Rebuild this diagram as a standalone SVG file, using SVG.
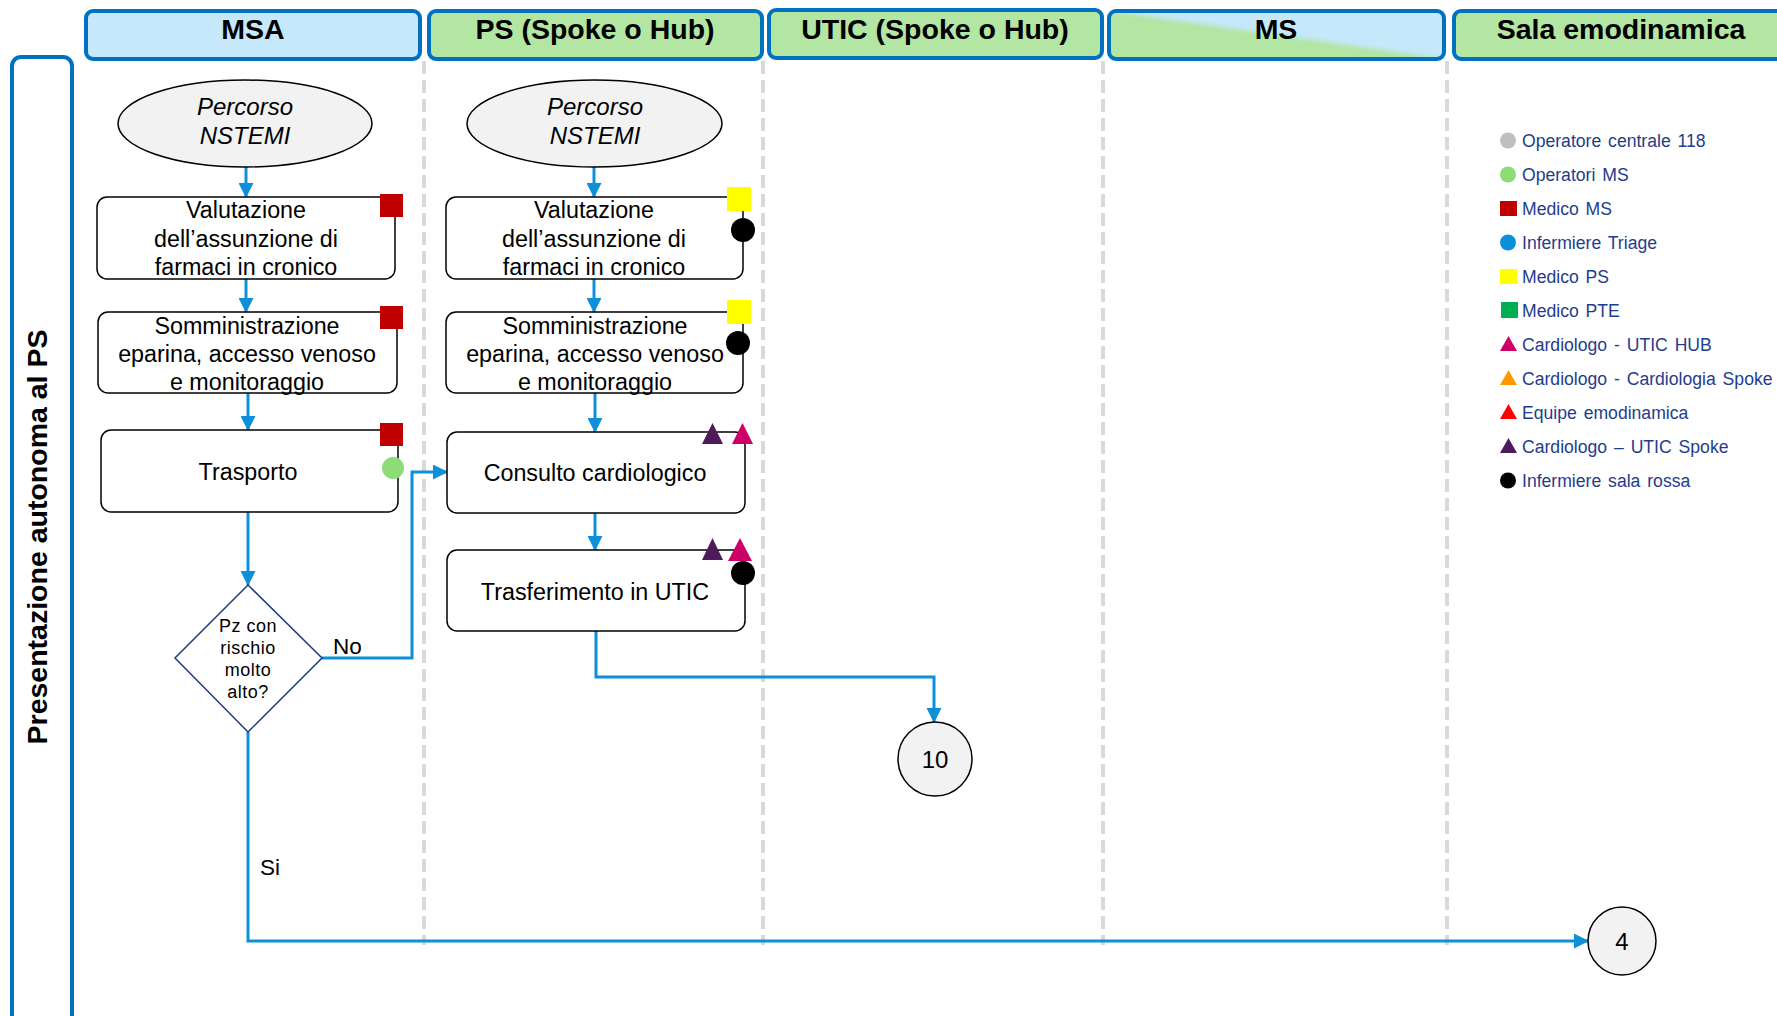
<svg xmlns="http://www.w3.org/2000/svg" width="1777" height="1016" viewBox="0 0 1777 1016">
  <defs>
    <marker id="arrow" markerUnits="userSpaceOnUse" markerWidth="15" markerHeight="15" refX="14" refY="7.5" orient="auto">
      <path d="M0,0 L15,7.5 L0,15 z" fill="#0E90D8"/>
    </marker>
    <linearGradient id="msFill" x1="0" y1="1" x2="1" y2="0">
      <stop offset="0" stop-color="#B2E6A2"/>
      <stop offset="0.46" stop-color="#B2E6A2"/>
      <stop offset="0.54" stop-color="#C5E8FA"/>
      <stop offset="1" stop-color="#C5E8FA"/>
    </linearGradient>
  </defs>
  <style>
    .hdr { stroke: #0070C0; stroke-width: 4; }
    .hdrText { font-family: "Liberation Sans", Arial, sans-serif; font-weight: bold; font-size: 28.5px; fill: #000; text-anchor: middle; }
    .lane { stroke: #D9D9D9; stroke-width: 4; stroke-dasharray: 13 6; fill: none; }
    .box { fill: #FFFFFF; stroke: #000; stroke-width: 1.5; }
    .start { fill: #F2F2F2; stroke: #000; stroke-width: 1.5; }
    .dec { fill: #FFFFFF; stroke: #1F3A7C; stroke-width: 1.5; }
    .t { font-family: "Liberation Sans", Arial, sans-serif; font-size: 23.3px; fill: #000; text-anchor: middle; }
    .ti { font-family: "Liberation Sans", Arial, sans-serif; font-size: 24px; font-style: italic; fill: #000; text-anchor: middle; }
    .td { font-family: "Liberation Sans", Arial, sans-serif; font-size: 18px; letter-spacing: 0.5px; fill: #000; text-anchor: middle; }
    .lbl { font-family: "Liberation Sans", Arial, sans-serif; font-size: 22.5px; fill: #000; }
    .ref { font-family: "Liberation Sans", Arial, sans-serif; font-size: 24px; fill: #000; text-anchor: middle; }
    .conn { stroke: #0E90D8; stroke-width: 3; fill: none; }
    .leg { font-family: "Liberation Sans", Arial, sans-serif; font-size: 17.6px; fill: #1F3D8C; word-spacing: 2px; }
  </style>

  <rect width="1777" height="1016" fill="#FFFFFF"/>

  <!-- swimlane headers -->
  <g id="header-msa">
    <rect class="hdr" x="86" y="11" width="334" height="48" rx="7" fill="#C5E8FA"/>
    <text class="hdrText" x="253" y="39">MSA</text>
  </g>
  <g id="header-ps">
    <rect class="hdr" x="429" y="11" width="333" height="48" rx="7" fill="#B2E6A2"/>
    <text class="hdrText" x="595" y="39">PS (Spoke o Hub)</text>
  </g>
  <g id="header-utic">
    <rect class="hdr" x="769" y="10" width="333" height="48" rx="7" fill="#B2E6A2"/>
    <text class="hdrText" x="935" y="39">UTIC (Spoke o Hub)</text>
  </g>
  <g id="header-ms">
    <rect class="hdr" x="1109" y="11" width="335" height="48" rx="7" fill="url(#msFill)"/>
    <text class="hdrText" x="1276" y="39">MS</text>
  </g>
  <g id="header-sala">
    <rect class="hdr" x="1454" y="11" width="336" height="48" rx="7" fill="#B2E6A2"/>
    <text class="hdrText" x="1621" y="39">Sala emodinamica</text>
  </g>

  <!-- row label -->
  <g id="row-label">
    <rect x="12" y="57" width="60" height="975" rx="9" fill="#FFFFFF" stroke="#0070C0" stroke-width="4"/>
    <text class="hdrText" font-size="28.8" transform="translate(47,537) rotate(-90)">Presentazione autonoma al PS</text>
  </g>

  <!-- lane separators -->
  <g id="lanes">
    <line class="lane" x1="424" y1="61" x2="424" y2="945"/>
    <line class="lane" x1="763" y1="61" x2="763" y2="945"/>
    <line class="lane" x1="1103" y1="61" x2="1103" y2="945"/>
    <line class="lane" x1="1447" y1="61" x2="1447" y2="945"/>
  </g>

  <!-- connectors -->
  <g id="connectors">
    <path class="conn" d="M246,167 V197" marker-end="url(#arrow)"/>
    <path class="conn" d="M246,279 V312" marker-end="url(#arrow)"/>
    <path class="conn" d="M248,393 V430" marker-end="url(#arrow)"/>
    <path class="conn" d="M248,512 V585" marker-end="url(#arrow)"/>
    <path class="conn" d="M322,658 H412 V472 H447" marker-end="url(#arrow)"/>
    <path class="conn" d="M594,167 V197" marker-end="url(#arrow)"/>
    <path class="conn" d="M594,279 V312" marker-end="url(#arrow)"/>
    <path class="conn" d="M595,393 V432" marker-end="url(#arrow)"/>
    <path class="conn" d="M595,513 V550" marker-end="url(#arrow)"/>
    <path class="conn" d="M596,631 V677 H934 V722" marker-end="url(#arrow)"/>
    <path class="conn" d="M248,732 V941 H1588" marker-end="url(#arrow)"/>
    <text class="lbl" x="333" y="654">No</text>
    <text class="lbl" x="260" y="875" font-size="24">Si</text>
  </g>

  <!-- MSA lane -->
  <g id="msa-start">
    <ellipse class="start" cx="245" cy="123.5" rx="127" ry="43.5"/>
    <text class="ti" x="245" y="115">Percorso</text>
    <text class="ti" x="245" y="144">NSTEMI</text>
  </g>
  <g id="msa-valutazione">
    <rect class="box" x="97" y="197" width="298" height="82" rx="10"/>
    <text class="t" x="246" y="218">Valutazione</text>
    <text class="t" x="246" y="247">dell’assunzione di</text>
    <text class="t" x="246" y="275">farmaci in cronico</text>
    <rect x="380" y="194" width="23" height="23" fill="#C00000"/>
  </g>
  <g id="msa-somministrazione">
    <rect class="box" x="98" y="312" width="299" height="81" rx="10"/>
    <text class="t" x="247" y="334">Somministrazione</text>
    <text class="t" x="247" y="362">eparina, accesso venoso</text>
    <text class="t" x="247" y="390">e monitoraggio</text>
    <rect x="380" y="306" width="23" height="23" fill="#C00000"/>
  </g>
  <g id="msa-trasporto">
    <rect class="box" x="101" y="430" width="297" height="82" rx="10"/>
    <text class="t" x="248" y="480">Trasporto</text>
    <rect x="380" y="423" width="23" height="23" fill="#C00000"/>
    <circle cx="393" cy="468" r="11" fill="#8CDC78"/>
  </g>
  <g id="msa-decisione">
    <polygon class="dec" points="248,585 322,658 248,732 175,658"/>
    <text class="td" x="248" y="632">Pz con</text>
    <text class="td" x="248" y="654">rischio</text>
    <text class="td" x="248" y="676">molto</text>
    <text class="td" x="248" y="698">alto?</text>
  </g>

  <!-- PS lane -->
  <g id="ps-start">
    <ellipse class="start" cx="594.5" cy="123.5" rx="127.5" ry="43.5"/>
    <text class="ti" x="595" y="115">Percorso</text>
    <text class="ti" x="595" y="144">NSTEMI</text>
  </g>
  <g id="ps-valutazione">
    <rect class="box" x="446" y="197" width="297" height="82" rx="10"/>
    <text class="t" x="594" y="218">Valutazione</text>
    <text class="t" x="594" y="247">dell’assunzione di</text>
    <text class="t" x="594" y="275">farmaci in cronico</text>
    <rect x="727" y="187" width="24" height="24" fill="#FFFF00"/>
    <circle cx="743" cy="230" r="12" fill="#000"/>
  </g>
  <g id="ps-somministrazione">
    <rect class="box" x="446" y="312" width="297" height="81" rx="10"/>
    <text class="t" x="595" y="334">Somministrazione</text>
    <text class="t" x="595" y="362">eparina, accesso venoso</text>
    <text class="t" x="595" y="390">e monitoraggio</text>
    <rect x="727" y="300" width="24" height="24" fill="#FFFF00"/>
    <circle cx="738" cy="343" r="12" fill="#000"/>
  </g>
  <g id="ps-consulto">
    <rect class="box" x="447" y="432" width="298" height="81" rx="10"/>
    <text class="t" x="595" y="481">Consulto cardiologico</text>
    <polygon points="712.5,423 723,444 702,444" fill="#4E1A5A"/>
    <polygon points="742.5,423 753,444 732,444" fill="#CC0066"/>
  </g>
  <g id="ps-trasferimento">
    <rect class="box" x="447" y="550" width="298" height="81" rx="10"/>
    <text class="t" x="595" y="600">Trasferimento in UTIC</text>
    <polygon points="712.5,538 723,560 702,560" fill="#4E1A5A"/>
    <polygon points="740,538 752,561 728,561" fill="#CC0066"/>
    <circle cx="743" cy="573" r="12" fill="#000"/>
  </g>

  <!-- off-page references -->
  <g id="ref-10">
    <circle class="start" cx="935" cy="759" r="37"/>
    <text class="ref" x="935" y="768">10</text>
  </g>
  <g id="ref-4">
    <circle class="start" cx="1622" cy="941" r="34"/>
    <text class="ref" x="1622" y="950">4</text>
  </g>

  <!-- legend of roles -->
  <g id="legend">
    <circle cx="1508" cy="140.5" r="8" fill="#BFBFBF"/>
    <text class="leg" x="1522" y="146.5">Operatore centrale 118</text>
    <circle cx="1508" cy="174.5" r="8" fill="#8CDC78"/>
    <text class="leg" x="1522" y="180.5">Operatori MS</text>
    <rect x="1500" y="201" width="17" height="15" fill="#C00000"/>
    <text class="leg" x="1522" y="214.5">Medico MS</text>
    <circle cx="1508" cy="242.5" r="8" fill="#0A90DA"/>
    <text class="leg" x="1522" y="248.5">Infermiere Triage</text>
    <rect x="1500" y="269" width="17" height="15" fill="#FFFF00"/>
    <text class="leg" x="1522" y="282.5">Medico PS</text>
    <rect x="1501" y="302" width="17" height="16" fill="#00B050"/>
    <text class="leg" x="1522" y="316.5">Medico PTE</text>
    <polygon points="1508.5,336 1517,351 1500,351" fill="#CC0066"/>
    <text class="leg" x="1522" y="350.5">Cardiologo - UTIC HUB</text>
    <polygon points="1508.5,370 1517,385 1500,385" fill="#FF9900"/>
    <text class="leg" x="1522" y="384.5">Cardiologo - Cardiologia Spoke</text>
    <polygon points="1508.5,404 1517,419 1500,419" fill="#FF0000"/>
    <text class="leg" x="1522" y="418.5">Equipe emodinamica</text>
    <polygon points="1508.5,438 1517,453 1500,453" fill="#4E1A5A"/>
    <text class="leg" x="1522" y="452.5">Cardiologo – UTIC Spoke</text>
    <circle cx="1508" cy="480.5" r="8" fill="#000"/>
    <text class="leg" x="1522" y="486.5">Infermiere sala rossa</text>
  </g>
</svg>
